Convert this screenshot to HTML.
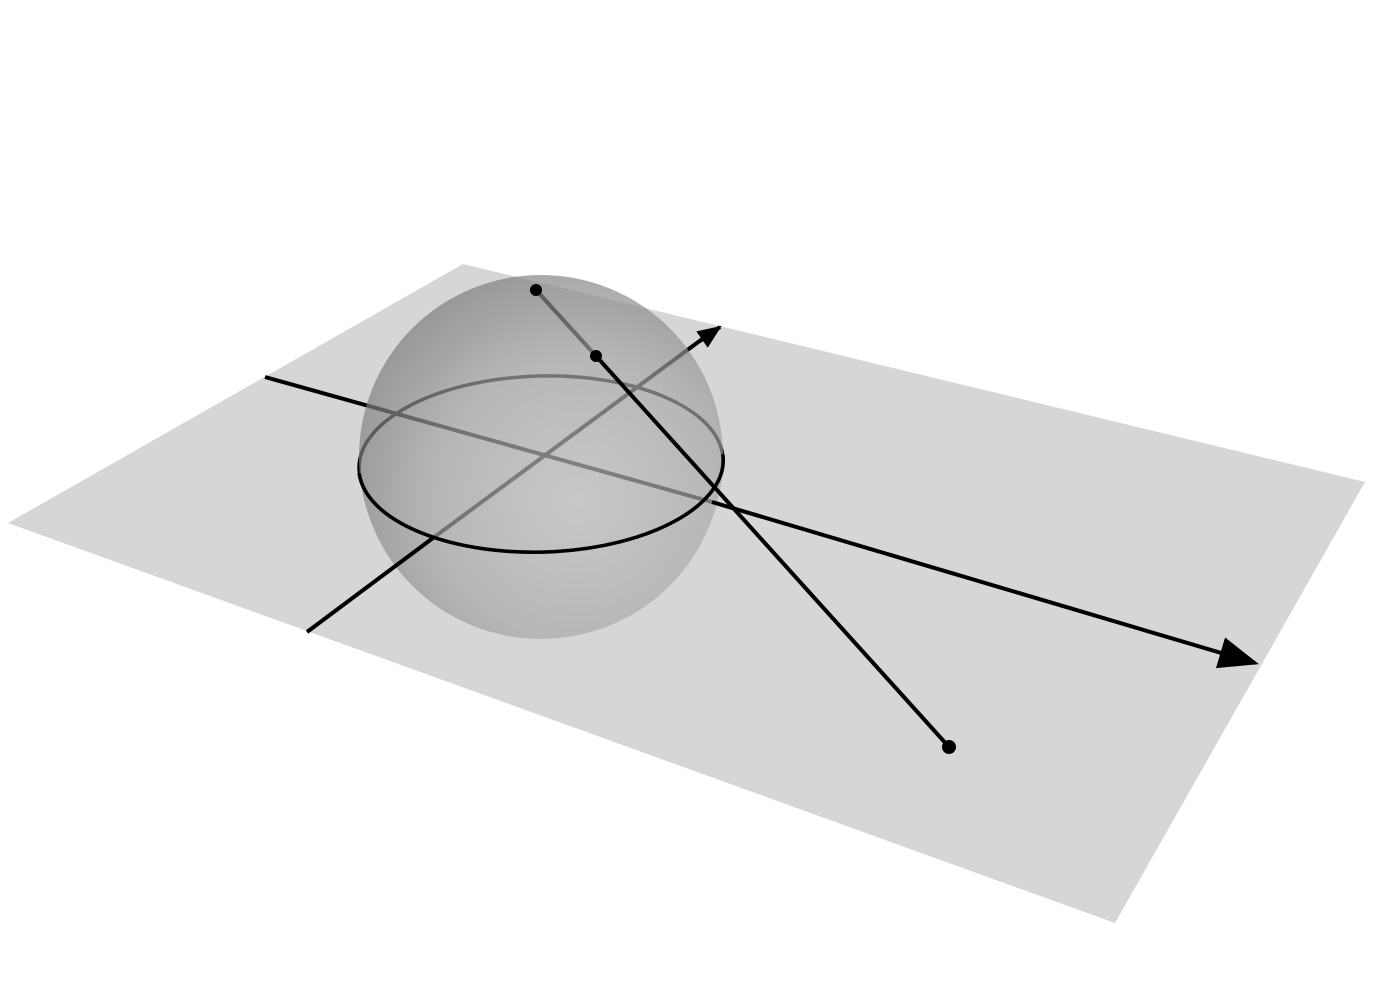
<!DOCTYPE html>
<html><head><meta charset="utf-8"><style>
html,body{margin:0;padding:0;background:#fff;width:1400px;height:1000px;overflow:hidden}
</style></head><body>
<svg width="1400" height="1000" viewBox="0 0 1400 1000">
<defs>
<radialGradient id="sg" cx="0.6" cy="0.62" r="0.65">
<stop offset="0" stop-color="#c2c2c2"/>
<stop offset="0.6" stop-color="#a8a8a8"/>
<stop offset="1" stop-color="#7c7c7c"/>
</radialGradient>
<marker id="ah" markerWidth="10" markerHeight="8" refX="9" refY="4" orient="auto" markerUnits="strokeWidth">
<path d="M0,0 L10,4 L0,8 z" fill="#000"/>
</marker>
<marker id="ahs" markerWidth="6" markerHeight="5" refX="5.5" refY="2.5" orient="auto" markerUnits="strokeWidth">
<path d="M0,0 L6,2.5 L0,5 z" fill="#000"/>
</marker>
</defs>
<polygon points="463,264 1365,482 1115,923 8,523" fill="#d6d6d6"/>
<line x1="265" y1="377" x2="712" y2="502" stroke="#000" stroke-width="4"/>
<line x1="433" y1="538" x2="705" y2="337" stroke="#000" stroke-width="4"/>
<line x1="536" y1="290" x2="596" y2="356" stroke="#000" stroke-width="4"/>
<ellipse cx="541" cy="464" rx="182" ry="88" transform="rotate(-1.5 541 464)" stroke="#000" stroke-width="3.5" fill="none"/>
<circle cx="541" cy="457" r="182" fill="url(#sg)" opacity="0.68"/>
<circle cx="536" cy="290" r="6" fill="#000"/>
<path d="M359,469 A182,88 0 0,0 723,459" stroke="#000" stroke-width="3.5" fill="none" transform="rotate(-1.5 541 464)"/>
<line x1="712" y1="502" x2="1255" y2="663" stroke="#000" stroke-width="4" marker-end="url(#ah)"/>
<line x1="307" y1="632" x2="433" y2="538" stroke="#000" stroke-width="4"/>
<line x1="700" y1="341" x2="720" y2="327" stroke="#000" stroke-width="4" marker-end="url(#ahs)"/>
<line x1="596" y1="356" x2="949" y2="747" stroke="#000" stroke-width="4"/>
<circle cx="596" cy="356" r="6" fill="#000"/>
<circle cx="949" cy="747" r="7" fill="#000"/>
</svg>
</body></html>
